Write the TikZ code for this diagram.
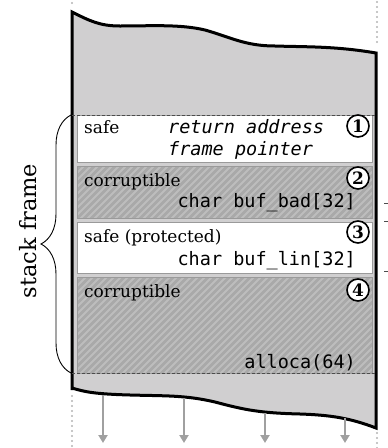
\documentclass[tikz,border=0pt]{standalone}
\usepackage{graphicx}
\usepackage{fontspec}
\newfontfamily\monof{DejaVu Sans Mono}
\newfontfamily\serf{DejaVu Serif}
\usetikzlibrary{decorations.pathreplacing,arrows.meta}
\definecolor{stackgray}{HTML}{D0CFD0}
\definecolor{hatchbg}{HTML}{A9A9A9}
\definecolor{hatchln}{HTML}{BDBDBD}
\definecolor{boxline}{HTML}{9A9A9A}
\definecolor{dotgray}{HTML}{B4B4B4}
\definecolor{arrgray}{HTML}{A0A0A0}
\newcommand\hatchregion[4]{%
  \begin{scope}
    \clip (#1,#2) rectangle (#3,#4);
    \fill[hatchbg] (#1,#2) rectangle (#3,#4);
    \foreach \i in {-120,-113,...,400}{\draw[hatchln, line width=1.8pt] (\i,#4+5) -- ++(120,-120);}
  \end{scope}
  \draw[boxline, line width=1pt] (#1,#2) rectangle (#3,#4);}
\newcommand\us{{\char"5F}}
\begin{document}
\begin{tikzpicture}[x=1pt,y=-1pt,
  lbl/.style={anchor=base west, inner sep=0pt, font=\serf\fontsize{17}{20}\selectfont},
  code/.style={anchor=base west, inner sep=0pt, font=\monof\fontsize{18.5}{20}\selectfont},
  codeR/.style={anchor=base east, inner sep=0pt, font=\monof\fontsize{18.5}{20}\selectfont},
  num/.style={circle, draw, line width=1.6pt, inner sep=0pt, minimum size=22pt, fill=white,
    font=\serf\bfseries\fontsize{17}{17}\selectfont},
  dotline/.style={dotgray, line width=2.2pt, dash pattern=on 0pt off 5pt, line cap=round},
  growarrow/.style={arrgray, line width=2.5pt, -{Triangle[length=8pt,width=9pt]}},
  dashedsep/.style={draw=black!70, line width=0.8pt, dash pattern=on 3pt off 2pt}]
\useasboundingbox (0,0) rectangle (388,448);

% dotted continuation lines
\draw[dotline] (72,3) -- (72,6);
\draw[dotline] (377,2) -- (377,46);
\draw[dotline] (72,396) -- (72,448);
\draw[dotline] (377,433) -- (377,448);

% stack outline
\draw[line width=3pt, fill=stackgray, line join=miter]
  (72,390) -- (72,12)
  .. controls (90,21) and (100,26) .. (120,26)
  .. controls (150,26) and (180,24) .. (205,30)
  .. controls (230,37) and (245,46) .. (275,46)
  .. controls (305,47) and (335,46) .. (376,53)
  -- (376,428)
  .. controls (350,418) and (330,415) .. (300,414)
  .. controls (260,413) and (245,410) .. (215,402)
  .. controls (185,395) and (165,396) .. (130,395)
  .. controls (95,394) and (85,392) .. (72,388) -- cycle;

% boxes
\draw[boxline, line width=1pt, fill=white] (77,115) rectangle (372,162);
\hatchregion{77}{166}{372}{218}
\draw[boxline, line width=1pt, fill=white] (77,222) rectangle (372,273);
\hatchregion{77}{277}{372}{373}
\draw[dashedsep] (72,115) -- (376,115);
\draw[dashedsep] (72,373) -- (376,373);

% texts
\node[lbl] (s1) at (84,133) {safe};
\node[code] (ra) at (168,133) {\itshape return address};
\node[code] (fp) at (168,155) {\itshape frame pointer};
\node[lbl] (c2) at (84,186) {corruptible};
\node[codeR] (bb) at (356,207) {char buf\us bad[32]};
\node[lbl] (s3) at (84,242) {safe (protected)};
\node[codeR] (bl) at (356,265) {char buf\us lin[32]};
\node[lbl] (c4) at (84,297) {corruptible};
\node[codeR] (al) at (356,368) {alloca(64)};

% circled numbers
\node[num] (n1) at (358,126) {1};
\node[num] (n2) at (358,178) {2};
\node[num] (n3) at (358,232) {3};
\node[num] (n4) at (358,290) {4};

% brace and label
\coordinate (bt) at (71,115);
\coordinate (bb2) at (71,373);
\draw[line width=0.9pt, decorate, decoration={brace, amplitude=30pt}] (bb2) -- (bt);
\node[rotate=90, inner sep=0pt, font=\serf\fontsize{22.5}{26}\selectfont] (sf) at (28,231) {stack\ frame};

% right ticks
\draw[black!70, line width=0.8pt] (384,203) -- (388,203);
\draw[black!70, line width=0.8pt] (384,221) -- (388,221);
\draw[black!70, line width=0.8pt] (384,271) -- (388,271);

% growth arrows
\coordinate (a1s) at (103,395); \coordinate (a1e) at (103,443);
\coordinate (a2s) at (184,398); \coordinate (a2e) at (184,443);
\coordinate (a3s) at (265,413); \coordinate (a3e) at (265,443);
\coordinate (a4s) at (345,418); \coordinate (a4e) at (345,443);
\draw[growarrow] (a1s) -- (a1e);
\draw[growarrow] (a2s) -- (a2e);
\draw[growarrow] (a3s) -- (a3e);
\draw[growarrow] (a4s) -- (a4e);
\end{tikzpicture}
\end{document}
